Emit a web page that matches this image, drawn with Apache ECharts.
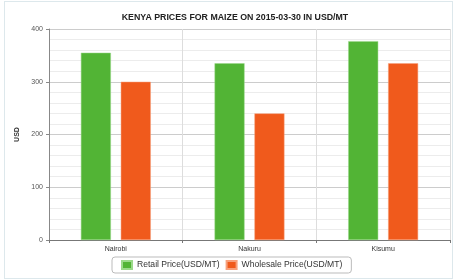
<!DOCTYPE html>
<html><head><meta charset="utf-8">
<script src="https://cdn.jsdelivr.net/npm/echarts@6/dist/echarts.min.js"></script>
<style>html,body{margin:0;padding:0;background:#fff}
#frame{position:absolute;left:4px;top:1px;width:449px;height:278px;border:1px solid #dde8ec;box-sizing:border-box}
#c{position:absolute;left:0;top:0;width:455px;height:280px}</style>
</head><body><div id="frame"></div><div id="c"></div>
<script>
const categories = ['Nairobi', 'Nakuru', 'Kisumu'];
const retail = [355, 335, 377];
const wholesale = [300, 240, 335];
const seriesNames = ['Retail Price(USD/MT)', 'Wholesale Price(USD/MT)'];
const titleText = 'KENYA PRICES FOR MAIZE ON 2015-03-30 IN USD/MT';

const chart = echarts.init(document.getElementById('c'), null, {renderer: 'canvas'});
chart.setOption({
  animation: false,
  title: {text: titleText, left: 230, top: 8, textAlign: 'center',
    textStyle: {fontSize: 8.8, fontWeight: 'bold', color: '#222', fontFamily: 'Liberation Sans'}},
  grid: {left: 49, right: 5, top: 29, bottom: 40, show: false},
  legend: {top: 257, left: 112, orient: 'horizontal', itemWidth: 10, itemHeight: 8, itemGap: 6,
    borderColor: '#bbb', borderWidth: 1, borderRadius: 3, padding: [3, 9],
    textStyle: {fontSize: 8.6, color: '#333', fontFamily: 'Liberation Sans'},
    icon: 'rect', data: seriesNames},
  xAxis: {type: 'category', data: categories,
    axisLine: {lineStyle: {color: '#777'}},
    axisTick: {show: true, lineStyle: {color: '#777'}, length: 3},
    axisLabel: {fontSize: 7, color: '#333', margin: 6, fontFamily: 'Liberation Sans'},
    splitLine: {show: true, lineStyle: {color: '#ddd'}}},
  yAxis: {type: 'value', min: 0, max: 400, interval: 100,
    name: 'USD', nameLocation: 'middle', nameGap: 27, nameRotate: 90,
    nameTextStyle: {fontSize: 7, fontWeight: 'bold', color: '#333', fontFamily: 'Liberation Sans'},
    axisLine: {show: true, lineStyle: {color: '#888'}},
    axisTick: {show: true, length: 3, lineStyle: {color: '#888'}},
    axisLabel: {fontSize: 7, color: '#555', margin: 6, fontFamily: 'Liberation Sans'},
    splitLine: {show: true, lineStyle: {color: '#ccc'}},
    minorTick: {show: false, splitNumber: 5},
    minorSplitLine: {show: true, lineStyle: {color: '#ececec'}}},
  series: [
    {name: seriesNames[0], type: 'bar', data: retail, barWidth: 30, barGap: '33%',
      itemStyle: {color: '#52b435', borderColor: '#9bd98a', borderWidth: 0.5}},
    {name: seriesNames[1], type: 'bar', data: wholesale, barWidth: 30,
      itemStyle: {color: '#f05a1c', borderColor: '#f7a07c', borderWidth: 0.5}}
  ]
});
</script></body></html>
